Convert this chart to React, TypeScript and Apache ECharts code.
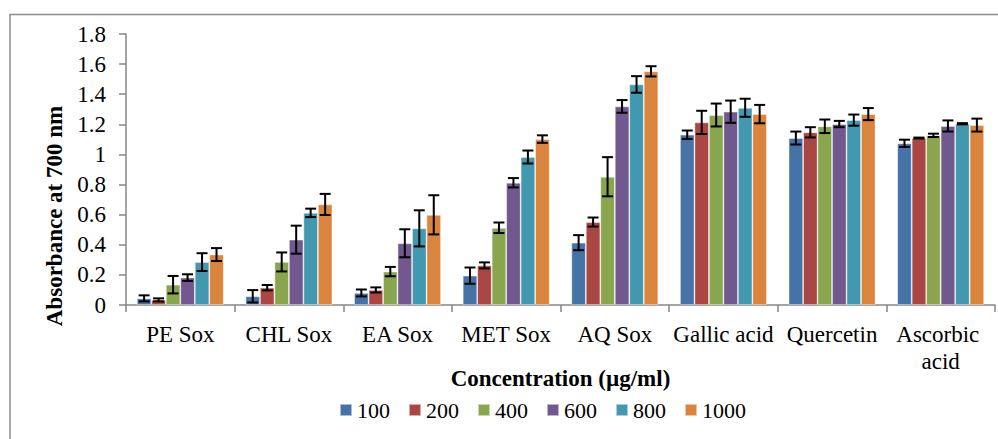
import React, { useEffect, useRef } from "react";
import * as echarts from "echarts";

const categories = ["PE Sox", "CHL Sox", "EA Sox", "MET Sox", "AQ Sox", "Gallic acid", "Quercetin", "Ascorbic acid"];
const seriesNames = ["100", "200", "400", "600", "800", "1000"];

const v100 = [0.044, 0.058, 0.08, 0.195, 0.414, 1.131, 1.109, 1.074];
const v200 = [0.034, 0.115, 0.1, 0.263, 0.551, 1.213, 1.147, 1.109];
const v400 = [0.135, 0.286, 0.222, 0.513, 0.852, 1.262, 1.187, 1.127];
const v600 = [0.182, 0.434, 0.41, 0.812, 1.319, 1.284, 1.202, 1.189];
const v800 = [0.285, 0.612, 0.509, 0.983, 1.465, 1.31, 1.228, 1.204];
const v1000 = [0.335, 0.668, 0.599, 1.102, 1.552, 1.268, 1.268, 1.195];

const e100 = [0.02, 0.041, 0.023, 0.054, 0.05, 0.028, 0.043, 0.024];
const e200 = [0.01, 0.018, 0.017, 0.02, 0.03, 0.077, 0.034, 0.003];
const e400 = [0.058, 0.063, 0.031, 0.035, 0.13, 0.076, 0.045, 0.011];
const e600 = [0.022, 0.093, 0.093, 0.031, 0.042, 0.074, 0.021, 0.037];
const e800 = [0.059, 0.028, 0.12, 0.043, 0.055, 0.06, 0.037, 0.004];
const e1000 = [0.043, 0.07, 0.13, 0.025, 0.034, 0.061, 0.04, 0.043];

const values = [v100, v200, v400, v600, v800, v1000];
const errors = [e100, e200, e400, e600, e800, e1000];
const colors = ["#4572A7", "#AA4643", "#89A54E", "#71588F", "#4198AF", "#DB843D"];

const FONT = "'Liberation Serif', 'Times New Roman', serif";
const CAT_GAP = 0.2;

export default function App() {
  const ref = useRef<HTMLDivElement>(null);
  useEffect(() => {
    if (!ref.current) return;
    const chart = echarts.init(ref.current, null, { renderer: "svg" });
    const n = seriesNames.length;
    const bars = seriesNames.map((name, i) => ({
      name,
      type: "bar",
      data: values[i],
      barGap: "0%",
      barCategoryGap: "20%",
      itemStyle: { color: colors[i], borderColor: "rgba(255,255,255,0.55)", borderWidth: 0.8 },
      z: 2,
    }));
    const errs = seriesNames.map((name, i) => ({
      name: "err" + name,
      type: "custom",
      z: 5,
      data: values[i].map((v, k) => [k, v, errors[i][k]]),
      renderItem: (params: any, api: any) => {
        const cat = api.value(0);
        const v = api.value(1);
        const e = api.value(2);
        const band = api.size([1, 0])[0];
        const groupW = band * (1 - CAT_GAP);
        const bw = groupW / n;
        const c = api.coord([cat, v]);
        const x = c[0] - groupW / 2 + (i + 0.5) * bw;
        const yTop = api.coord([cat, v + e])[1];
        const yBot = api.coord([cat, v - e])[1];
        const cap = 5.5;
        const style = { stroke: "#000", lineWidth: 2 };
        return {
          type: "group",
          children: [
            { type: "line", shape: { x1: x, y1: yTop, x2: x, y2: yBot }, style },
            { type: "line", shape: { x1: x - cap, y1: yTop, x2: x + cap, y2: yTop }, style },
            { type: "line", shape: { x1: x - cap, y1: yBot, x2: x + cap, y2: yBot }, style },
          ],
        };
      },
    }));
    chart.setOption({
      animation: false,
      textStyle: { fontFamily: FONT },
      grid: { left: 126, right: 3, top: 34, bottom: 134, containLabel: false },
      legend: {
        data: seriesNames,
        left: 339,
        top: 399,
        padding: 0,
        icon: "rect",
        itemWidth: 12,
        itemHeight: 12,
        itemGap: 18,
        textStyle: { fontFamily: FONT, fontSize: 22, color: "#000", lineHeight: 22 },
      },
      xAxis: {
        type: "category",
        data: categories,
        name: "Concentration (µg/ml)",
        nameLocation: "middle",
        nameGap: 62,
        nameMoveOverlap: false,
        nameTextStyle: { fontFamily: FONT, fontSize: 23, fontWeight: "bold", color: "#000" },
        axisLine: { lineStyle: { color: "#868686", width: 1.5 } },
        axisTick: { show: true, length: 7, lineStyle: { color: "#868686", width: 1.5 } },
        axisLabel: {
          fontFamily: FONT,
          fontSize: 23,
          color: "#000",
          margin: 16,
          lineHeight: 27,
          width: 106,
          overflow: "break",
          interval: 0,
        },
      },
      yAxis: {
        type: "value",
        min: 0,
        max: 1.8,
        interval: 0.2,
        axisLine: { show: true, lineStyle: { color: "#868686", width: 1.5 } },
        axisTick: { show: true, length: 7, lineStyle: { color: "#868686", width: 1.5 } },
        splitLine: { show: false },
        axisLabel: { fontFamily: FONT, fontSize: 23, color: "#000", margin: 20 },
      },
      graphic: [
        {
          type: "rect",
          shape: { x: 10, y: 14.5, width: 1000, height: 440 },
          style: { fill: "none", stroke: "#8c8c8c", lineWidth: 1.5 },
          silent: true,
        },
        {
          type: "text",
          x: 54,
          y: 216,
          rotation: Math.PI / 2,
          style: {
            text: "Absorbance at 700 nm",
            fontFamily: FONT,
            fontSize: 23,
            fontWeight: "bold",
            fill: "#000",
            align: "center",
            verticalAlign: "middle",
          },
        },
      ],
      series: [...bars, ...errs],
    });
    return () => chart.dispose();
  }, []);
  return (
    <div
      ref={ref}
      style={{ position: "fixed", left: 0, top: 0, width: 998, height: 439, background: "#fff" }}
    />
  );
}
